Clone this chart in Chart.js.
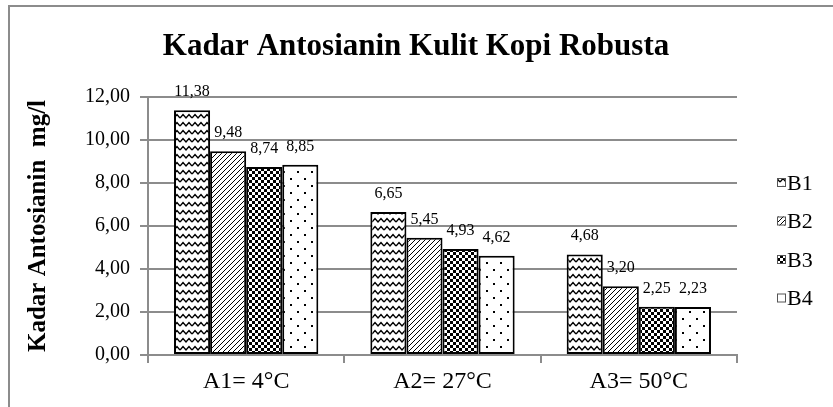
<!DOCTYPE html>
<html>
<head>
<meta charset="utf-8">
<script src="https://cdn.jsdelivr.net/npm/chart.js@4/dist/chart.umd.min.js"></script>
<style>
html,body{margin:0;padding:0;background:#fff;}
#wrap{width:833px;height:407px;position:relative;}
</style>
</head>
<body>
<div id="wrap"><canvas id="c" width="833" height="407"></canvas></div>
<script>
const categories = ['A1= 4°C', 'A2= 27°C', 'A3= 50°C'];
const seriesNames = ['B1', 'B2', 'B3', 'B4'];
const B1 = [11.38, 6.65, 4.68];
const B2 = [9.48, 5.45, 3.20];
const B3 = [8.74, 4.93, 2.25];
const B4 = [8.85, 4.62, 2.23];
const yTicks = [0, 2, 4, 6, 8, 10, 12];
const titleText = 'Kadar Antosianin Kulit Kopi Robusta';
const yTitle = 'Kadar Antosianin  mg/l';

const SERIF = '"Liberation Serif", "Times New Roman", serif';
const fmt = v => v.toFixed(2).replace('.', ',');

function makePattern(kind) {
  const cv = document.createElement('canvas');
  const ctx = cv.getContext('2d');
  if (kind === 'wave') {
    cv.width = 12; cv.height = 8;
    ctx.fillStyle = '#fff'; ctx.fillRect(0, 0, 12, 8);
    ctx.strokeStyle = '#000'; ctx.lineWidth = 1.4;
    ctx.beginPath();
    ctx.moveTo(0, 6); ctx.lineTo(3, 2.5); ctx.lineTo(6, 6); ctx.lineTo(9, 2.5); ctx.lineTo(12, 6);
    ctx.stroke();
  } else if (kind === 'diag') {
    cv.width = 5; cv.height = 5;
    ctx.fillStyle = '#fff'; ctx.fillRect(0, 0, 5, 5);
    ctx.strokeStyle = '#000'; ctx.lineWidth = 1;
    ctx.beginPath();
    ctx.moveTo(-1, 6); ctx.lineTo(6, -1);
    ctx.moveTo(-1, 1); ctx.lineTo(1, -1);
    ctx.moveTo(4, 6); ctx.lineTo(6, 4);
    ctx.stroke();
  } else if (kind === 'check') {
    cv.width = 6; cv.height = 6;
    ctx.fillStyle = '#000'; ctx.fillRect(0, 0, 6, 6);
    ctx.fillStyle = '#fff';
    ctx.fillRect(0, 0, 3, 3); ctx.fillRect(3, 3, 3, 3);
  } else {
    cv.width = 14; cv.height = 14;
    ctx.fillStyle = '#fff'; ctx.fillRect(0, 0, 14, 14);
    ctx.fillStyle = '#000';
    ctx.fillRect(3, 3, 2, 2); ctx.fillRect(10, 10, 2, 2);
  }
  return document.getElementById('c').getContext('2d').createPattern(cv, 'repeat');
}

const patterns = [makePattern('wave'), makePattern('diag'), makePattern('check'), makePattern('dots')];
const seriesData = [B1, B2, B3, B4];

const datasets = seriesNames.map((n, i) => ({
  label: n,
  data: seriesData[i],
  backgroundColor: patterns[i],
  borderColor: '#000',
  borderWidth: 2,
  borderSkipped: false,
  barPercentage: 1,
  categoryPercentage: 0.735
}));

const extras = {
  id: 'extras',
  beforeDraw(chart) {
    const ctx = chart.ctx;
    ctx.save();
    ctx.fillStyle = '#fff';
    ctx.fillRect(0, 0, chart.width, chart.height);
    ctx.strokeStyle = '#8c8c8c';
    ctx.lineWidth = 2;
    ctx.beginPath();
    ctx.moveTo(9, chart.height + 5);
    ctx.lineTo(9, 6);
    ctx.lineTo(chart.width + 5, 6);
    ctx.stroke();
    // title
    ctx.fillStyle = '#000';
    ctx.font = 'bold 31px ' + SERIF;
    ctx.textAlign = 'center';
    ctx.textBaseline = 'middle';
    ctx.fillText(titleText, 416, 47);
    ctx.restore();
  },
  afterDatasetsDraw(chart) {
    const ctx = chart.ctx;
    ctx.save();
    ctx.fillStyle = '#000';
    ctx.font = '16px ' + SERIF;
    ctx.textAlign = 'center';
    ctx.textBaseline = 'alphabetic';
    chart.data.datasets.forEach((ds, di) => {
      const meta = chart.getDatasetMeta(di);
      meta.data.forEach((el, j) => {
        ctx.fillText(fmt(ds.data[j]), el.x, el.y - 14);
      });
    });
    // legend
    const lx = 777, ly0 = 183, step = 38.5;
    ctx.textAlign = 'left';
    ctx.textBaseline = 'middle';
    ctx.font = '22px ' + SERIF;
    chart.data.datasets.forEach((ds, i) => {
      const y = ly0 + i * step;
      ctx.fillStyle = ds.backgroundColor;
      ctx.fillRect(lx, y - 5, 9, 9);
      ctx.strokeStyle = '#555';
      ctx.lineWidth = 1;
      ctx.strokeRect(lx + 0.5, y - 4.5, 8, 8);
      ctx.fillStyle = '#000';
      ctx.fillText(ds.label, lx + 10, y + 1);
    });
    ctx.restore();
  }
};

new Chart(document.getElementById('c'), {
  type: 'bar',
  data: { labels: categories, datasets },
  options: {
    responsive: false,
    animation: false,
    devicePixelRatio: 1,
    layout: { padding: { left: 24, right: 96, top: 97, bottom: 7.2 } },
    plugins: {
      legend: { display: false },
      tooltip: { enabled: false },
      title: { display: false }
    },
    scales: {
      x: {
        grid: { drawOnChartArea: false, drawTicks: true, tickLength: 8, color: '#8c8c8c', lineWidth: 2, offset: true },
        border: { display: true, color: '#8c8c8c', width: 2 },
        ticks: { color: '#000', font: { family: SERIF, size: 24 }, padding: 4 }
      },
      y: {
        min: 0, max: 12,
        afterBuildTicks(axis) { axis.ticks = yTicks.map(v => ({ value: v })); },
        grid: { color: '#8c8c8c', lineWidth: 2, tickLength: 8 },
        border: { display: true, color: '#8c8c8c', width: 2 },
        ticks: { color: '#000', font: { family: SERIF, size: 20 }, padding: 10, callback: v => fmt(v) },
        title: { display: true, text: yTitle, color: '#000', font: { family: SERIF, size: 25, weight: 'bold' }, padding: { top: 0, bottom: 21 } }
      }
    }
  },
  plugins: [extras]
});
</script>
</body>
</html>
